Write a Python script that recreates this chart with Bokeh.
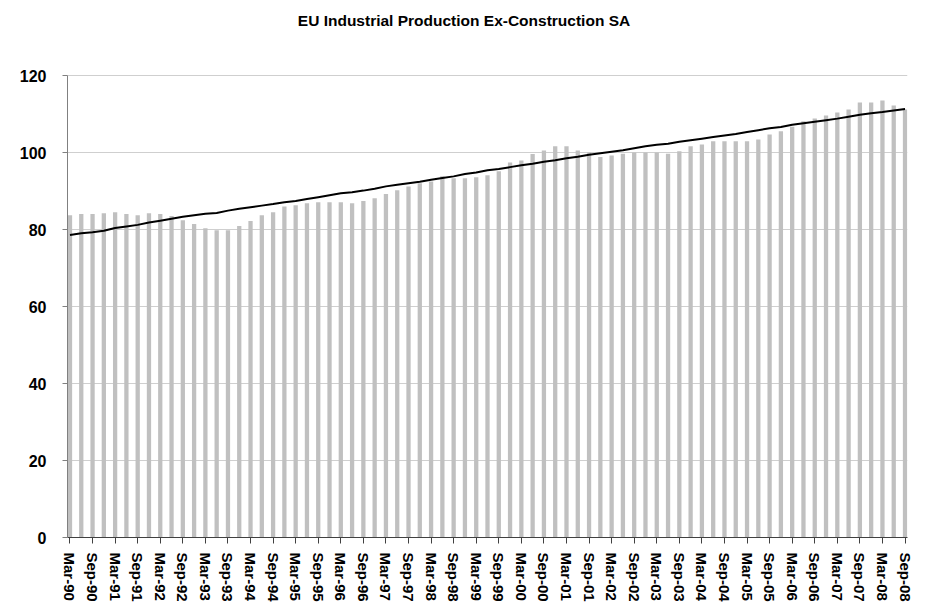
from bokeh.plotting import figure
from bokeh.models import FixedTicker, ColumnDataSource, Range1d, Label
from bokeh.embed import file_html
from bokeh.resources import INLINE

years = list(range(1990, 2009))
months = ["Mar", "Jun", "Sep", "Dec"]
quarters = [f"{m}-{str(y)[2:]}" for y in years for m in months][:75]

title_text = "EU Industrial Production Ex-Construction SA"

production = [
    83.7, 84.0, 84.0, 84.2, 84.5, 84.0, 83.7, 84.2, 84.0, 83.5,
    82.4, 81.4, 80.3, 79.8, 79.8, 80.9, 82.2, 83.7, 84.5, 86.0,
    86.3, 86.8, 87.1, 87.1, 87.1, 86.8, 87.4, 88.1, 89.2, 90.2,
    91.2, 92.0, 92.5, 93.8, 93.3, 93.3, 93.6, 94.1, 95.1, 97.4,
    97.9, 99.6, 100.5, 101.6, 101.6, 100.5, 100.0, 98.8, 99.2, 99.7,
    100.0, 100.0, 100.0, 99.7, 100.3, 101.6, 102.1, 102.9, 102.9, 102.9,
    102.9, 103.4, 104.7, 105.5, 106.7, 108.1, 108.8, 109.6, 110.4, 111.2,
    113.0, 113.0, 113.5, 112.2, 111.2,
]

trend = [
    78.6, 79.0, 79.3, 79.7, 80.4, 80.8, 81.2, 81.8, 82.3, 82.8,
    83.3, 83.7, 84.1, 84.3, 84.9, 85.4, 85.8, 86.2, 86.6, 87.1,
    87.4, 87.9, 88.4, 88.9, 89.4, 89.7, 90.1, 90.6, 91.2, 91.6,
    92.0, 92.4, 92.9, 93.4, 93.8, 94.4, 94.8, 95.4, 95.7, 96.2,
    96.7, 97.1, 97.6, 98.0, 98.5, 98.9, 99.4, 99.8, 100.2, 100.6,
    101.1, 101.6, 102.0, 102.3, 102.8, 103.2, 103.6, 104.0, 104.4, 104.8,
    105.3, 105.8, 106.3, 106.6, 107.2, 107.6, 108.0, 108.4, 108.8, 109.3,
    109.8, 110.2, 110.5, 110.9, 111.3,
]

y_ticks = [0, 20, 40, 60, 80, 100, 120]
y_max = 120

idx = list(range(len(quarters)))
src = ColumnDataSource(dict(x=idx, prod=production, trend=trend))

FONT = "Liberation Sans"

# layout (pixels)
left_border, top_border = 67, 5
frame_w = 840
plot_h = 462            # height of the 0..120 area
frame_h = 532           # frame extends above 120 to hold the title
x0, x1 = -0.22, len(quarters) - 1 + 0.22
y_top = y_max * frame_h / plot_h

p = figure(
    frame_width=frame_w, frame_height=frame_h,
    min_border_left=left_border, min_border_right=13, min_border_top=top_border,
    min_border_bottom=70,
    x_range=Range1d(x0, x1),
    y_range=Range1d(0, y_top),
    output_backend="svg", toolbar_location=None,
)
p.outline_line_color = None
p.background_fill_color = "white"

# title: centred on the page at ~20px from the top
px_per_x = frame_w / (x1 - x0)
px_per_y = plot_h / y_max
title_x = x0 + (463.5 - left_border) / px_per_x
title_y = y_top - (20 - top_border) / px_per_y
title = Label(x=title_x, y=title_y, text=title_text,
              text_font=FONT, text_font_size="15.5px", text_font_style="bold",
              text_color="black", text_align="center", text_baseline="middle")
p.add_layout(title)

p.vbar(x="x", top="prod", width=0.38, bottom=0, source=src,
       fill_color="#c0c0c0", line_color=None)
p.line(x="x", y="trend", source=src, line_color="black", line_width=2)

p.xgrid.grid_line_color = None
p.ygrid.grid_line_color = "#cfcfcf"
p.ygrid.grid_line_width = 1

p.yaxis.ticker = FixedTicker(ticks=y_ticks)
p.yaxis.bounds = (0, y_max)
p.yaxis.axis_line_color = "#808080"
p.yaxis.major_tick_line_color = "#808080"
p.yaxis.major_tick_out = 5
p.yaxis.major_tick_in = 0
p.yaxis.minor_tick_line_color = None
p.yaxis.major_label_standoff = 16
p.yaxis.major_label_text_font = FONT
p.yaxis.major_label_text_font_size = "16px"
p.yaxis.major_label_text_font_style = "bold"
p.yaxis.major_label_text_color = "black"

tick_idx = idx[::2]
p.xaxis.ticker = FixedTicker(ticks=tick_idx)
p.xaxis.major_label_overrides = {i: quarters[i] for i in tick_idx}
p.xaxis.major_label_orientation = "vertical"
p.xaxis.axis_line_color = "#404040"
p.xaxis.major_tick_line_color = "#404040"
p.xaxis.major_tick_out = 6
p.xaxis.major_tick_in = 0
p.xaxis.minor_tick_line_color = None
p.xaxis.major_label_standoff = 9
p.xaxis.major_label_text_font = FONT
p.xaxis.major_label_text_font_size = "15px"
p.xaxis.major_label_text_font_style = "bold"
p.xaxis.major_label_text_color = "black"

open("out.html", "w").write(file_html(p, INLINE))
